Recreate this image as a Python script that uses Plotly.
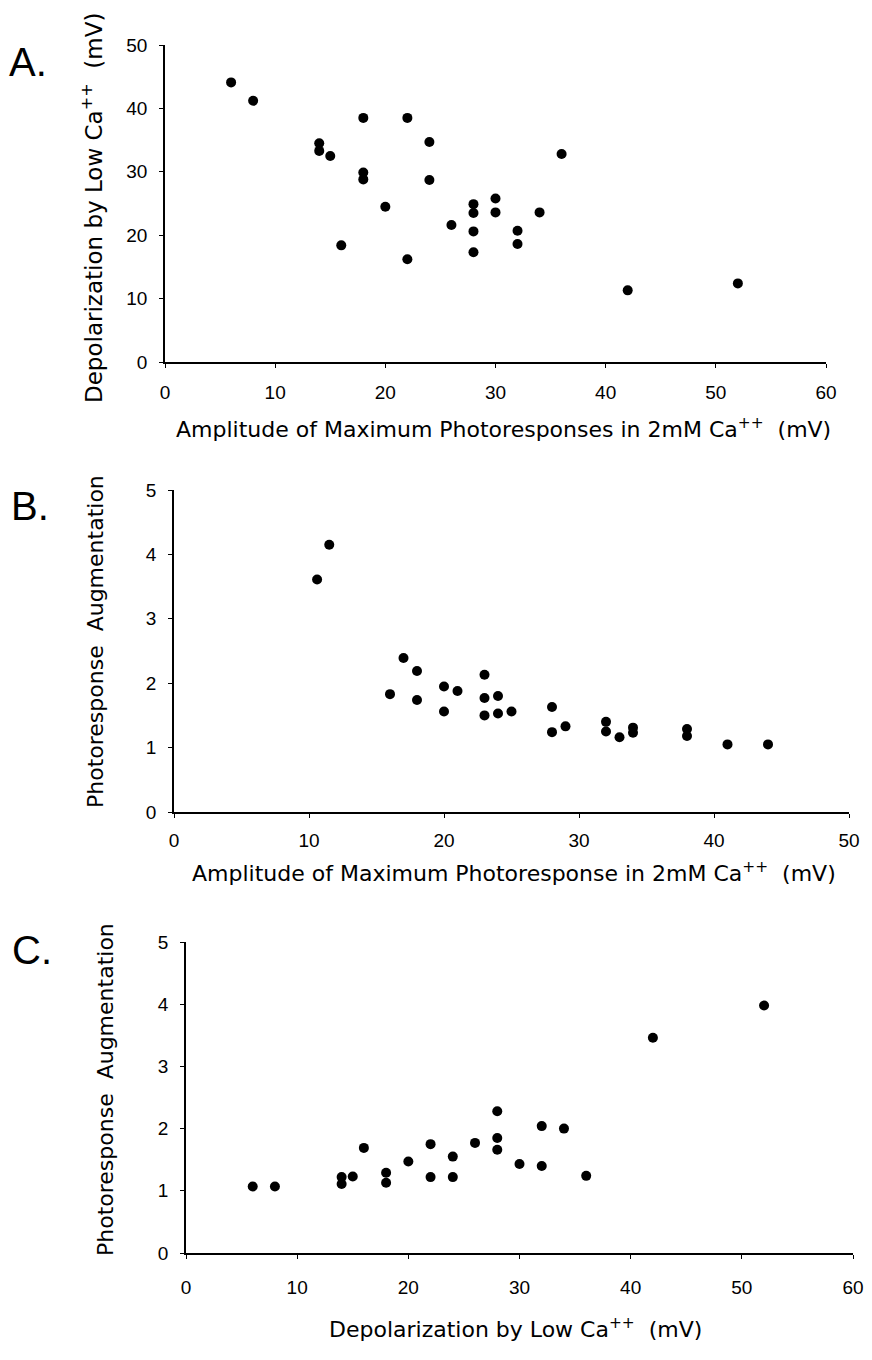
import plotly.graph_objects as go

# Panel A: amplitude of max photoresponse (mV) vs depolarization by low Ca++ (mV)
a_amp = [6, 8, 14, 14, 15, 18, 18, 18, 16, 20, 22, 22, 24, 24, 26,
         28, 28, 28, 28, 30, 30, 32, 32, 34, 36, 42, 52]
a_depol = [44.1, 41.2, 34.5, 33.3, 32.5, 38.5, 29.9, 28.8, 18.4, 24.5, 38.5, 16.2, 34.7, 28.7, 21.6,
           24.9, 23.5, 20.6, 17.3, 25.8, 23.6, 20.7, 18.6, 23.6, 32.8, 11.3, 12.4]

# Panel B: amplitude of max photoresponse (mV) vs photoresponse augmentation
b_amp = [10.6, 11.5, 16, 17, 18, 18, 20, 20, 21, 23, 23, 23, 24, 24, 25,
         28, 28, 29, 32, 32, 33, 34, 34, 38, 38, 41, 44]
b_aug = [3.61, 4.15, 1.83, 2.39, 2.19, 1.74, 1.95, 1.56, 1.88, 2.13, 1.77, 1.50, 1.80, 1.53, 1.56,
         1.63, 1.24, 1.33, 1.40, 1.25, 1.16, 1.31, 1.23, 1.29, 1.18, 1.05, 1.05]

# Panel C: depolarization by low Ca++ (mV) vs photoresponse augmentation
c_depol = [6, 8, 14, 14, 15, 16, 18, 18, 20, 22, 22, 24, 24, 26,
           28, 28, 28, 30, 32, 32, 34, 36, 42, 52]
c_aug = [1.07, 1.07, 1.11, 1.22, 1.23, 1.69, 1.29, 1.13, 1.47, 1.75, 1.22, 1.55, 1.22, 1.77,
         2.28, 1.85, 1.66, 1.43, 2.04, 1.40, 2.00, 1.24, 3.46, 3.98]

# page has an 8px body margin, so the figure is 16px smaller than the window
W, H = 856, 1344
OFF = 8
TICK_FONT = "Liberation Sans, Arial, sans-serif"
TITLE_FONT = "DejaVu Sans, Verdana, sans-serif"

def px_x(p):
    return (p - OFF) / W

def px_y(p):
    return 1 - (p - OFF) / H

marker = dict(color="black", size=10, line=dict(width=0))

fig = go.Figure()
fig.add_trace(go.Scatter(x=a_amp, y=a_depol, mode="markers", marker=marker, xaxis="x", yaxis="y"))
fig.add_trace(go.Scatter(x=b_amp, y=b_aug, mode="markers", marker=marker, xaxis="x2", yaxis="y2"))
fig.add_trace(go.Scatter(x=c_depol, y=c_aug, mode="markers", marker=marker, xaxis="x3", yaxis="y3"))

axis_common = dict(showgrid=False, zeroline=False, showline=True, linecolor="black",
                   ticks="outside", ticklen=4, tickcolor="black", tickwidth=1,
                   tickfont=dict(family=TICK_FONT, size=19, color="black"),
                   automargin=False, ticklabeloverflow="allow")

fig.update_layout(
    width=W, height=H, showlegend=False,
    paper_bgcolor="white", plot_bgcolor="white",
    margin=dict(l=0, r=0, t=0, b=0),
    xaxis=dict(axis_common, domain=[px_x(165), px_x(826)], range=[0, 60], dtick=10,
               anchor="y", linewidth=2, ticklabelstandoff=8),
    yaxis=dict(axis_common, domain=[px_y(362), px_y(45)], range=[0, 50], dtick=10,
               anchor="x", linewidth=1.5, ticklabelstandoff=8),
    xaxis2=dict(axis_common, domain=[px_x(174), px_x(849)], range=[0, 50], dtick=10,
                anchor="y2", linewidth=2, ticklabelstandoff=6),
    yaxis2=dict(axis_common, domain=[px_y(812), px_y(490)], range=[0, 5], dtick=1,
                anchor="x2", linewidth=1.5, ticklabelstandoff=8),
    xaxis3=dict(axis_common, domain=[px_x(186), px_x(853)], range=[0, 60], dtick=10,
                anchor="y3", linewidth=2, ticklabelstandoff=12),
    yaxis3=dict(axis_common, domain=[px_y(1253), px_y(942)], range=[0, 5], dtick=1,
                anchor="x3", linewidth=1.5, ticklabelstandoff=8),
)

def note(text, x, y, size=20, angle=0, family=TITLE_FONT):
    fig.add_annotation(text=text, x=px_x(x), y=px_y(y), xref="paper", yref="paper",
                       xanchor="center", yanchor="middle",
                       showarrow=False, textangle=angle,
                       font=dict(family=family, size=size, color="black"))

# panel letters
note("A.", 28, 62, size=40, family=TICK_FONT)
note("B.", 30, 506, size=40, family=TICK_FONT)
note("C.", 32, 950, size=40, family=TICK_FONT)

# axis titles
note("Amplitude of Maximum Photoresponses in 2mM Ca<sup>++</sup>  (mV)", 504, 428, size=22)
note("Depolarization by Low Ca<sup>++</sup>  (mV)", 92, 208, size=23, angle=-90)

note("Amplitude of Maximum Photoresponse in 2mM Ca<sup>++</sup>  (mV)", 514, 872, size=22)
note("Photoresponse  Augmentation", 95, 642, size=22, angle=-90)

note("Depolarization by Low Ca<sup>++</sup>  (mV)", 515, 1328, size=22)
note("Photoresponse  Augmentation", 105, 1090, size=22, angle=-90)

fig.write_html("out.html")
